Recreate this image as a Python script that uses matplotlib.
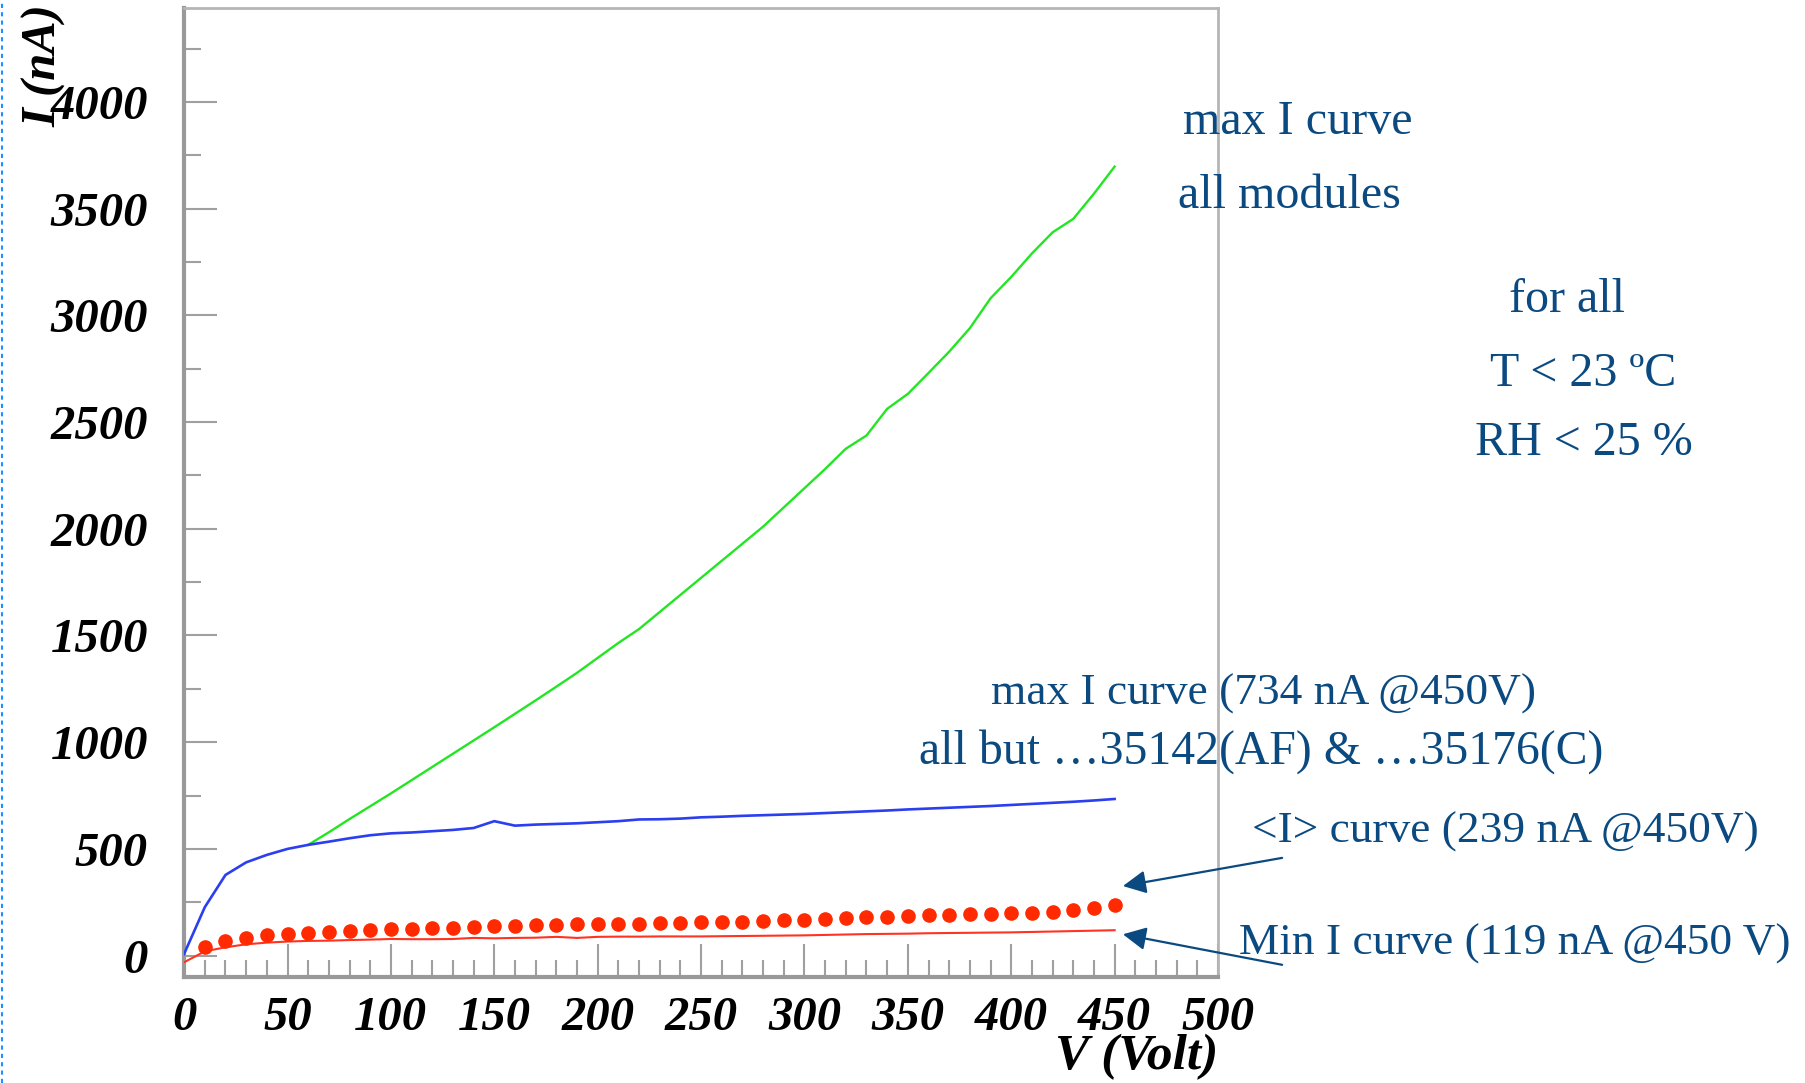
import matplotlib
matplotlib.use('Agg')
import matplotlib.pyplot as plt
from matplotlib.lines import Line2D
from matplotlib.ticker import MultipleLocator

# tensione (V) e correnti (nA)
v_tutti = list(range(0, 460, 10))
v_verde = list(range(60, 460, 10))
v_medio = list(range(10, 460, 10))

i_max_tutti = [519, 578, 640, 700, 760, 822, 884, 946, 1008, 1070, 1133, 1196, 1260, 1325,
               1395, 1465, 1530, 1610, 1690, 1770, 1850, 1930, 2010, 2100, 2190, 2280, 2375,
               2437, 2562, 2632, 2730, 2830, 2940, 3080, 3180, 3290, 3389, 3452, 3570, 3697]

i_max = [8, 227, 378, 437, 472, 500, 519, 534, 550, 564, 573, 577, 583, 589, 598, 630, 609,
         614, 617, 620, 625, 630, 638, 639, 642, 648, 651, 655, 658, 661, 664, 668, 672, 676,
         680, 685, 689, 693, 697, 701, 706, 711, 716, 721, 727, 734]

i_min = [-31, 20, 39, 53, 61, 66, 69, 70, 73, 75, 78, 77, 77, 78, 83, 81, 83, 84, 88, 83, 88,
         89, 89, 90, 90, 90, 91, 92, 93, 94, 95, 97, 99, 101, 102, 103, 105, 106, 107, 108,
         109, 111, 113, 115, 117, 119]

i_medio = [42, 69, 83, 95, 102, 106, 109, 116, 120, 123, 123, 130, 130, 136, 139, 141, 145,
           145, 148, 148, 148, 150, 153, 155, 157, 158, 159, 161, 166, 169, 172, 178, 181, 183,
           186, 189, 191, 194, 197, 200, 202, 206, 212, 225, 237]

serif = 'Liberation Serif'
blu_testo = '#0b4a80'
grigio = '#a0a0a0'

fig = plt.figure(figsize=(18.05, 10.83), dpi=100)
ax = fig.add_axes([0.102, 0.0979, 0.5728, 0.8947])

ax.plot(v_verde, i_max_tutti, color='#22e622', lw=1.7, zorder=3)
ax.plot(v_tutti, i_max, color='#2b3ef0', lw=1.9, zorder=4)
ax.plot(v_tutti, i_min, color='#ff3322', lw=1.5, zorder=4)
ax.plot(v_medio, i_medio, ls='none', marker='o', ms=9.5, color='#ff2a00', zorder=5)

ax.set_xlim(0, 500)
ax.set_ylim(-100, 4440)
ax.xaxis.set_major_locator(MultipleLocator(50))
ax.xaxis.set_minor_locator(MultipleLocator(10))
ax.yaxis.set_major_locator(MultipleLocator(500))
ax.yaxis.set_minor_locator(MultipleLocator(250))
ax.tick_params(which='both', direction='in', color=grigio, width=1.5, top=False, right=False)
ax.tick_params(which='major', length=24)
ax.tick_params(which='minor', length=12)
ax.tick_params(axis='y', which='major', pad=26)
ax.tick_params(axis='x', which='major', pad=14)

for lab in ax.get_xticklabels() + ax.get_yticklabels():
    lab.set_fontfamily(serif)
    lab.set_fontsize(35)
    lab.set_fontweight('bold')
    lab.set_fontstyle('italic')

for lato in ['left', 'bottom']:
    ax.spines[lato].set_color('#999999')
    ax.spines[lato].set_linewidth(3)
for lato in ['top', 'right']:
    ax.spines[lato].set_color('#b5b5b5')
    ax.spines[lato].set_linewidth(2)

# titoli degli assi
fig.text(44 / 1805, 1 - 66 / 1083, 'I (nA)', rotation=90, ha='center', va='center',
         family=serif, fontsize=35, fontweight='bold', fontstyle='italic')
fig.text(1218 / 1805, 1 - 1057 / 1083, 'V (Volt)', ha='right', va='center',
         family=serif, fontsize=37, fontweight='bold', fontstyle='italic')

# testi descrittivi (x sinistra o centro, y centro in pixel)
def testo(x, y, s, ha='left', size=32.7):
    fig.text(x / 1805, 1 - y / 1083, s, ha=ha, va='center', family=serif,
             fontsize=size, color=blu_testo)

testo(1183, 122, 'max I curve', size=34.6)
testo(1178, 196, 'all modules', size=34.6)
testo(1567, 300, 'for all', ha='center', size=34.6)
testo(1583, 374, 'T < 23 ºC', ha='center', size=34.6)
testo(1584, 443, 'RH < 25 %', ha='center', size=34.6)
testo(991, 694, 'max I curve (734 nA @450V)')
testo(919, 752, 'all but …35142(AF) & …35176(C)', size=34.4)
testo(1252, 832, '<I> curve (239 nA @450V)')
testo(1239, 944, 'Min I curve (119 nA @450 V)')

freccia = dict(arrowstyle='-|>,head_length=0.7,head_width=0.35', color=blu_testo,
               lw=1.6, mutation_scale=20, shrinkA=0, shrinkB=0)
ax.annotate('', xy=(454, 326), xytext=(531, 458), arrowprops=freccia, annotation_clip=False)
ax.annotate('', xy=(454, 100), xytext=(531, -43), arrowprops=freccia, annotation_clip=False)

# bordo tratteggiato della slide
fig.add_artist(Line2D([0.0012, 0.0012], [0, 1], ls=(0, (2, 2)), lw=1.5, color='#1e90ff'))

fig.savefig('out.png', dpi=100)
